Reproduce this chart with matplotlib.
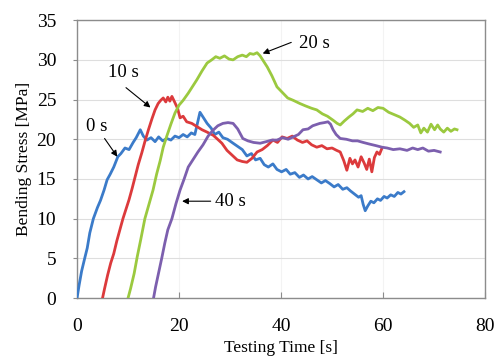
import matplotlib
matplotlib.use("Agg")
import matplotlib.pyplot as plt

# Bending stress vs testing time for four hold times
t_0s = [0.0, 0.4, 0.9, 1.5, 2.0, 2.5, 3.2, 4.0, 4.6, 5.3, 5.9, 6.5, 7.2, 8.0, 8.6, 9.4,
        10.2, 11.0, 11.6, 12.4, 13.0, 13.7, 14.5, 15.3, 16.0, 16.8, 17.6, 18.4, 19.2,
        20.0, 20.8, 21.6, 22.4, 23.1, 23.6, 24.1, 24.6, 25.5, 26.3, 27.0, 27.8, 28.6,
        29.5, 30.6, 31.5, 32.4, 33.3, 34.2, 35.0, 35.9, 36.7, 37.5, 38.4, 39.2, 40.1,
        41.0, 41.8, 42.7, 43.6, 44.4, 45.3, 46.1, 47.0, 47.9, 48.7, 49.6, 50.4, 51.2,
        52.1, 52.9, 53.6, 54.4, 55.2, 55.7, 56.1, 56.5, 57.0, 57.6, 58.2, 58.9, 59.5,
        60.2, 60.8, 61.5, 62.2, 62.9, 63.5, 64.1]
y_0s = [0.0, 1.6, 3.4, 5.0, 6.3, 8.2, 10.0, 11.4, 12.3, 13.6, 14.9, 15.6, 16.5, 17.8, 18.2, 18.9,
        18.7, 19.6, 20.2, 21.2, 20.4, 19.9, 20.2, 19.7, 20.3, 19.8, 20.1, 19.9, 20.4,
        20.2, 20.6, 20.3, 20.8, 20.6, 22.0, 23.4, 22.9, 22.0, 21.4, 20.6, 20.9, 20.2,
        20.0, 19.5, 19.1, 18.7, 17.9, 18.2, 17.4, 17.6, 16.8, 16.5, 16.9, 16.2, 15.9,
        16.2, 15.6, 15.8, 15.2, 15.5, 15.0, 15.3, 14.9, 14.5, 14.8, 14.4, 14.0, 14.3,
        13.7, 13.9, 13.5, 13.1, 12.7, 12.9, 11.8, 11.0, 11.6, 12.2, 12.0, 12.5, 12.3,
        12.8, 12.6, 13.0, 12.8, 13.3, 13.1, 13.4]

t_10s = [5.0, 5.4, 6.0, 6.6, 7.2, 7.8, 8.4, 9.0, 9.6, 10.2, 10.8, 11.4, 12.0, 12.7, 13.3,
         14.0, 14.7, 15.3, 15.9, 16.4, 16.9, 17.4, 17.8, 18.2, 18.6, 19.2, 19.7, 20.2,
         20.8, 21.5, 22.5, 23.5, 24.5, 25.5, 26.7, 27.4, 28.4, 29.4, 30.4, 31.4, 32.4,
         33.3, 34.3, 35.3, 36.3, 37.3, 38.4, 39.3, 40.2, 41.2, 42.2, 43.2, 44.2, 45.1,
         46.0, 47.0, 48.0, 49.0, 50.0, 50.9, 51.6, 52.3, 52.9, 53.5, 54.0, 54.5, 55.1,
         55.7, 56.3, 56.8, 57.3, 57.8, 58.3, 58.8, 59.3, 59.8]
y_10s = [0.0, 1.2, 2.9, 4.4, 5.6, 7.2, 8.6, 10.0, 11.2, 12.4, 13.8, 15.3, 16.8, 18.3, 19.7,
         21.2, 22.6, 23.7, 24.5, 24.9, 25.2, 24.7, 25.3, 24.8, 25.4, 24.6, 23.9, 22.7,
         22.9, 22.2, 22.0, 21.6, 21.2, 20.9, 20.5, 20.1, 19.5, 18.6, 18.0, 17.4, 17.2,
         17.1, 17.6, 18.4, 18.7, 19.2, 19.9, 19.6, 20.3, 20.1, 20.4, 19.9, 19.6, 19.8,
         19.3, 19.0, 19.2, 18.8, 18.9, 18.6, 18.4, 17.3, 16.1, 17.6, 16.9, 17.4, 16.5,
         17.8, 17.0, 16.2, 17.5, 15.9, 17.7, 18.4, 18.1, 18.9]

t_20s = [10.0, 10.5, 11.2, 11.8, 12.5, 13.3, 14.1, 14.9, 15.6, 16.3, 16.9, 17.6, 18.4,
         19.2, 20.0, 20.8, 21.8, 22.7, 23.5, 24.5, 25.5, 26.4, 27.2, 28.0, 28.9, 29.8,
         30.6, 31.5, 32.4, 33.2, 33.9, 34.6, 35.3, 35.9, 36.6, 37.3, 38.2, 39.2, 40.4,
         41.3, 42.4, 43.7, 44.8, 46.0, 47.0, 48.1, 49.1, 50.2, 51.0, 51.6, 52.4, 53.3,
         54.1, 54.9, 56.0, 57.0, 58.0, 59.0, 60.0, 61.1, 62.2, 63.3, 64.3, 65.2, 66.0,
         66.8, 67.4, 68.0, 68.7, 69.4, 70.1, 70.7, 71.2, 71.9, 72.6, 73.3, 74.0, 74.5]
y_20s = [0.0, 1.2, 3.1, 5.2, 7.4, 10.0, 11.8, 13.6, 15.6, 17.3, 19.0, 20.4, 21.9,
         23.3, 24.3, 24.9, 25.8, 26.7, 27.5, 28.6, 29.6, 30.0, 30.4, 30.2, 30.5, 30.1,
         30.0, 30.4, 30.6, 30.4, 30.8, 30.7, 30.9, 30.5, 29.8, 29.1, 28.0, 26.6, 25.8,
         25.2, 24.9, 24.5, 24.2, 23.9, 23.7, 23.2, 22.9, 22.4, 22.0, 21.8, 22.3, 22.8,
         23.2, 23.7, 23.5, 23.9, 23.6, 24.0, 23.9, 23.4, 23.1, 22.8, 22.4, 22.0, 21.5,
         21.8, 20.8, 21.4, 20.9, 21.9, 21.2, 21.8, 21.3, 20.9, 21.4, 21.0, 21.3, 21.2]

t_40s = [15.0, 15.4, 16.0, 16.6, 17.2, 17.8, 18.6, 19.4, 20.2, 21.0, 21.8, 22.7, 23.7,
         24.7, 25.7, 26.6, 27.6, 28.6, 29.6, 30.6, 31.5, 32.5, 33.5, 34.6, 35.9, 37.1,
         38.2, 39.2, 40.3, 41.4, 42.4, 43.4, 44.3, 45.3, 46.2, 47.6, 48.5, 49.2, 49.7,
         50.2, 50.8, 51.6, 52.8, 54.0, 55.0, 56.1, 57.3, 58.6, 59.8, 60.8, 62.0, 63.3,
         64.7, 65.8, 66.8, 67.8, 68.9, 70.0, 71.2]
y_40s = [0.0, 1.4, 3.2, 5.0, 6.9, 8.6, 10.0, 11.9, 13.6, 15.0, 16.5, 17.4, 18.4,
         19.3, 20.4, 21.1, 21.7, 22.0, 22.1, 22.0, 21.3, 20.1, 19.8, 19.6, 19.5, 19.7,
         19.9, 19.9, 20.2, 20.0, 20.3, 20.6, 21.2, 21.3, 21.7, 22.0, 22.1, 22.2, 21.9,
         21.2, 20.6, 20.1, 20.0, 19.8, 19.8, 19.6, 19.4, 19.2, 19.0, 18.9, 18.7, 18.8,
         18.6, 18.9, 18.7, 18.9, 18.5, 18.6, 18.4]

times = [t_0s, t_10s, t_20s, t_40s]
stresses = [y_0s, y_10s, y_20s, y_40s]
colors = ["#3b7bc9", "#dc3a3c", "#9bc93f", "#7c5fae"]

# label text, text position, arrow tail and tip (data coords)
labels = ["0 s", "10 s", "20 s", "40 s"]
text_xy = [(3.8, 21.6), (9.0, 28.4), (43.6, 32.1), (27.0, 12.2)]
arrow_from = [(5.4, 20.1), (9.6, 26.5), (42.0, 32.2), (26.2, 12.2)]
arrow_to = [(7.9, 17.8), (14.4, 24.0), (36.4, 30.8), (20.6, 12.2)]

plt.rcParams["font.family"] = "Liberation Serif"

fig = plt.figure(figsize=(4.97, 3.6), dpi=100)
ax = fig.add_axes([0.155, 0.172, 0.821, 0.772])

for t, s, c in zip(times, stresses, colors):
    ax.plot(t, s, color=c, lw=2.0, solid_joinstyle="round", zorder=3)

for lab, txy, a0, a1 in zip(labels, text_xy, arrow_from, arrow_to):
    ax.annotate("", xy=a1, xytext=a0,
                arrowprops=dict(arrowstyle="-|>", color="black", lw=0.8,
                                mutation_scale=9, shrinkA=0, shrinkB=0), zorder=4)
    ha = "left" if lab in ("20 s", "40 s") else "center"
    ax.text(txy[0], txy[1], lab, fontsize=13.5, ha=ha, va="center", zorder=4)

ax.set_xlim(0, 80)
ax.set_ylim(0, 35)
ax.set_xticks([0, 20, 40, 60, 80])
ax.set_yticks(range(0, 36, 5))
ax.yaxis.grid(True, color="#dedede", lw=0.8)
ax.xaxis.grid(True, color="#f3f3f3", lw=0.8)
ax.set_axisbelow(True)

for sp in ax.spines.values():
    sp.set_color("#8c8c8c")
    sp.set_linewidth(1.0)

ax.tick_params(axis="x", direction="in", length=4, color="#8c8c8c", labelsize=14, pad=14)
ax.tick_params(axis="y", direction="out", length=3, color="#8c8c8c", labelsize=14, pad=12)

ax.set_xlabel("Testing Time [s]", fontsize=12.5, labelpad=4)
ax.set_ylabel("Bending Stress [MPa]", fontsize=12.5, labelpad=3)

fig.savefig("out.png", dpi=100)
